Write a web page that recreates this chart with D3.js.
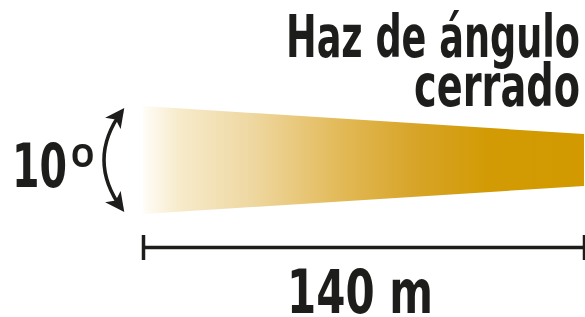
<!DOCTYPE html>
<html>
<head>
<meta charset="utf-8">
<script src="https://cdn.jsdelivr.net/npm/d3@7"></script>
<style>
  body { margin: 0; background: #fff; }
  text { font-family: "DejaVu Sans", sans-serif; font-weight: bold; font-stretch: condensed; fill: #1d1d1b; }
</style>
</head>
<body>
<div id="beam_chart"></div>
<script>
// data
const titleLines = ["Haz de ángulo", "cerrado"];
const beamAngle = 10;          // degrees
const beamDistance = 140;      // metres
const angleUnit = "º";
const distanceLabel = beamDistance + " m";
// beam half-width at start and end of the throw
const beamSpread = [{d: 0, half: 54}, {d: 140, half: 26}];
const gradientStops = [
  {offset: 0, color: "#fffdf8"},
  {offset: 0.08, color: "#f7ebcc"},
  {offset: 0.25, color: "#eed7a0"},
  {offset: 0.45, color: "#e2b957"},
  {offset: 0.62, color: "#d7a427"},
  {offset: 0.78, color: "#d29b05"},
  {offset: 1, color: "#d29a00"}
];

const width = 585, height = 317;

const svg = d3.select("#beam_chart")
  .append("svg")
    .attr("width", width)
    .attr("height", height);

// scales
const x = d3.scaleLinear()
  .domain([0, beamDistance])
  .range([143, 584]);

const y = d3.scaleLinear()
  .domain([-60, 60])
  .range([100, 220]);

const beamCenter = 0;

// gradient
const grad = svg.append("defs")
  .append("linearGradient")
    .attr("id", "beamGrad")
    .attr("gradientUnits", "userSpaceOnUse")
    .attr("x1", x(0)).attr("x2", x(beamDistance))
    .attr("y1", 0).attr("y2", 0);
grad.selectAll("stop")
  .data(gradientStops)
  .join("stop")
    .attr("offset", d => d.offset)
    .attr("stop-color", d => d.color);

// beam shape
const area = d3.area()
  .x(d => x(d.d))
  .y0(d => y(beamCenter - d.half))
  .y1(d => y(beamCenter + d.half));

svg.append("path")
  .datum(beamSpread)
  .attr("d", area)
  .attr("fill", "url(#beamGrad)");

// distance axis
const axisY = 247;
const axis = d3.axisBottom(x)
  .tickValues([0, beamDistance])
  .tickSize(0)
  .tickFormat("");
const axisG = svg.append("g")
  .attr("transform", `translate(0, ${axisY})`)
  .call(axis);
axisG.select(".domain")
  .attr("stroke", "#1d1d1b")
  .attr("stroke-width", 3.5);
axisG.selectAll(".tick line")
  .attr("y1", -12).attr("y2", 13)
  .attr("stroke", "#1d1d1b")
  .attr("stroke-width", 3.5);

svg.append("text")
  .attr("x", 287)
  .attr("y", 313)
  .attr("font-size", 60)
  .attr("textLength", 146)
  .attr("lengthAdjust", "spacingAndGlyphs")
  .text(distanceLabel);

// angle arc with arrows
const marker = svg.select("defs").append("marker")
  .attr("id", "arrowHead")
  .attr("viewBox", "0 0 10 10")
  .attr("refX", 8).attr("refY", 5)
  .attr("markerWidth", 5.5).attr("markerHeight", 5.5)
  .attr("markerUnits", "strokeWidth")
  .attr("orient", "auto-start-reverse");
marker.append("path")
  .attr("d", "M0,0 L10,5 L0,10 L2.5,5 Z")
  .attr("fill", "#1d1d1b");

const arcTop = y(beamCenter - 52), arcBot = y(beamCenter + 52);
const arcPath = d3.path();
arcPath.moveTo(122, arcTop + 3);
arcPath.quadraticCurveTo(86, (arcTop + arcBot) / 2, 122, arcBot - 3);
svg.append("path")
  .attr("d", arcPath.toString())
  .attr("fill", "none")
  .attr("stroke", "#1d1d1b")
  .attr("stroke-width", 3.5)
  .attr("marker-start", "url(#arrowHead)")
  .attr("marker-end", "url(#arrowHead)");

const angleText = svg.append("text")
  .attr("x", 12)
  .attr("y", 187)
  .attr("font-size", 60);
angleText.append("tspan")
  .attr("textLength", 55)
  .attr("lengthAdjust", "spacingAndGlyphs")
  .text(beamAngle);
angleText.append("tspan")
  .attr("dx", 2)
  .style("font-family", "Roboto, sans-serif")
  .style("font-stretch", "normal")
  .text(angleUnit);

// title
const titleWidths = [294, 166];
svg.selectAll(".title")
  .data(titleLines)
  .join("text")
    .attr("class", "title")
    .attr("x", (d, i) => 580 - titleWidths[i])
    .attr("y", (d, i) => 57 + i * 49)
    .attr("font-size", 58)
    .attr("textLength", (d, i) => titleWidths[i])
    .attr("lengthAdjust", "spacingAndGlyphs")
    .text(d => d);
</script>
</body>
</html>
